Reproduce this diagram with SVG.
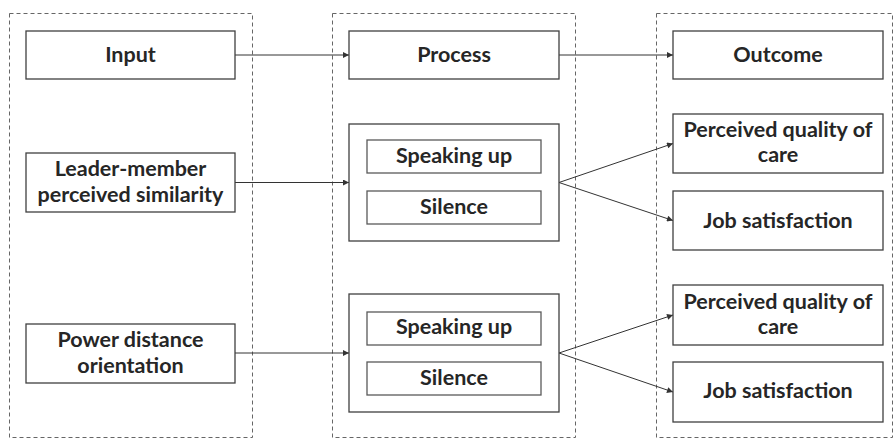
<svg xmlns="http://www.w3.org/2000/svg" width="895" height="439" viewBox="0 0 895 439">
<defs>
<marker id="ah" viewBox="0 0 10 10" refX="10" refY="5" markerWidth="7" markerHeight="6" markerUnits="userSpaceOnUse" orient="auto">
<path d="M0,0 L10,5 L0,10 z" fill="#333"/>
</marker>
<style>
.dash{fill:none;stroke:#666;stroke-width:1;stroke-dasharray:4 3}
.box{fill:#fff;stroke:#404040;stroke-width:1.3}
.inner{fill:#fff;stroke:#595959;stroke-width:1.3}
.t{font-family:Lato,"Open Sans","Liberation Sans",sans-serif;font-weight:bold;font-size:21.5px;fill:#262626;text-anchor:middle}
.c{fill:none;stroke:#333;stroke-width:1;marker-end:url(#ah)}
</style>
</defs>
<rect width="895" height="439" fill="#fff"/>
<g id="columns">
<rect class="dash" x="9.5" y="13.5" width="243" height="424"/>
<rect class="dash" x="332.5" y="13.5" width="243" height="424"/>
<rect class="dash" x="656.5" y="13.5" width="236" height="424"/>
</g>
<g id="connectors">
<line class="c" x1="235" y1="55" x2="349" y2="55"/>
<line class="c" x1="559" y1="55" x2="673" y2="55"/>
<line class="c" x1="235" y1="182.5" x2="349" y2="182.5"/>
<line class="c" x1="559" y1="182.5" x2="673" y2="143.5"/>
<line class="c" x1="559" y1="182.5" x2="673" y2="220.5"/>
<line class="c" x1="235" y1="353" x2="349" y2="353"/>
<line class="c" x1="559" y1="353" x2="673" y2="315"/>
<line class="c" x1="559" y1="353" x2="673" y2="392"/>
</g>
<g id="input"><rect class="box" x="26" y="31" width="209" height="48"/><text class="t" x="130.5" y="62">Input</text></g>
<g id="lmps"><rect class="box" x="26" y="153" width="209" height="59"/><text class="t" x="130.5" y="176">Leader-member</text><text class="t" x="130.5" y="202">perceived similarity</text></g>
<g id="pdo"><rect class="box" x="26" y="324" width="209" height="59"/><text class="t" x="130.5" y="347">Power distance</text><text class="t" x="130.5" y="373">orientation</text></g>
<g id="process"><rect class="box" x="349" y="31" width="210" height="48"/><text class="t" x="454" y="62">Process</text></g>
<g id="process1"><rect class="box" x="349" y="124" width="210" height="117"/>
<rect class="inner" x="367" y="140" width="174" height="33"/><text class="t" x="454" y="163">Speaking up</text>
<rect class="inner" x="367" y="191" width="174" height="33"/><text class="t" x="454" y="214">Silence</text></g>
<g id="process2"><rect class="box" x="349" y="294" width="210" height="118"/>
<rect class="inner" x="367" y="312" width="174" height="33"/><text class="t" x="454" y="334">Speaking up</text>
<rect class="inner" x="367" y="362" width="174" height="33"/><text class="t" x="454" y="385">Silence</text></g>
<g id="outcome"><rect class="box" x="673" y="31" width="210" height="48"/><text class="t" x="778" y="62">Outcome</text></g>
<g id="pqc1"><rect class="box" x="673" y="114" width="210" height="59"/><text class="t" x="778" y="137">Perceived quality of</text><text class="t" x="778" y="162">care</text></g>
<g id="js1"><rect class="box" x="673" y="191" width="210" height="59"/><text class="t" x="778" y="228">Job satisfaction</text></g>
<g id="pqc2"><rect class="box" x="673" y="285" width="210" height="60"/><text class="t" x="778" y="309">Perceived quality of</text><text class="t" x="778" y="334">care</text></g>
<g id="js2"><rect class="box" x="673" y="362" width="210" height="60"/><text class="t" x="778" y="398">Job satisfaction</text></g>
</svg>
